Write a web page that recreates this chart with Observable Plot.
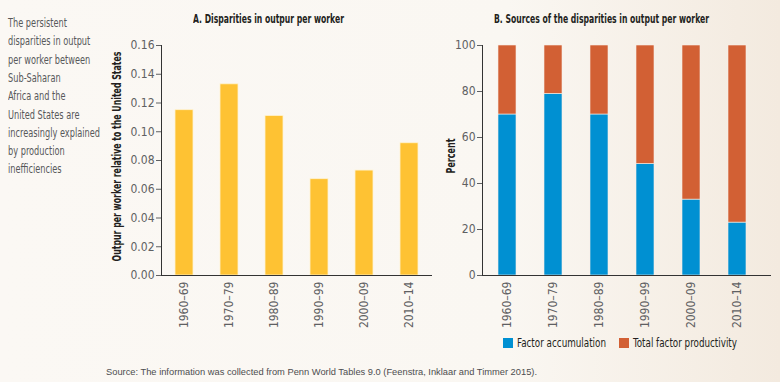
<!DOCTYPE html>
<html>
<head>
<meta charset="utf-8">
<script src="https://cdn.jsdelivr.net/npm/d3@7"></script>
<script src="https://cdn.jsdelivr.net/npm/@observablehq/plot@0.6"></script>
<style>
  html, body { margin: 0; padding: 0; }
  body { width: 780px; height: 382px; overflow: hidden; }
  #wrap {
    position: relative; width: 780px; height: 382px;
    background: linear-gradient(to right, #fbf8f4 0%, #faf7f2 65%, #f3eadf 100%);
    font-family: 'Liberation Sans Narrow', 'DejaVu Sans Condensed', 'Arial Narrow', sans-serif;
    overflow: hidden;
  }
  .abs { position: absolute; white-space: nowrap; transform-origin: 0 50%; }
  .noteline { position: absolute; left: 8px; font-size: 11.5px; color: #58595b; white-space: nowrap; transform-origin: 0 50%; line-height: 14px; }
  .title { top: 12px; font-size: 12.5px; font-weight: bold; color: #231f20; line-height: 14px; }
  .legtext { font-size: 12.5px; color: #231f20; line-height: 14px; top: 336px; }
  .sw { position: absolute; width: 10px; height: 10px; top: 338px; }
  #source { left: 106px; top: 367px; font-family: 'Liberation Sans', Arial, sans-serif; font-size: 8.8px; color: #4d4d4f; line-height: 11px; }
  .plot { position: absolute; top: 0; }
</style>
</head>
<body>
<div id="wrap">
  <div id="plotA" class="plot" style="left:100px"></div>
  <div id="plotB" class="plot" style="left:420px"></div>
</div>
<script>
// ---- Data ----
const periods = ["1960–69", "1970–79", "1980–89", "1990–99", "2000–09", "2010–14"];
const outputPerWorker = [0.115, 0.133, 0.111, 0.067, 0.073, 0.092];
const factorAccumulation = [70, 79, 70, 48.5, 33, 23];
const totalFactorProductivity = [30, 21, 30, 51.5, 67, 77];
const seriesNames = ["Factor accumulation", "Total factor productivity"];
const seriesColors = ["#0090d2", "#d26034"];
const yTicksA = [0, 0.02, 0.04, 0.06, 0.08, 0.10, 0.12, 0.14, 0.16];
const yTicksB = [0, 20, 40, 60, 80, 100];
const titleA = "A. Disparities in outpur per worker";
const titleB = "B. Sources of the disparities in output per worker";
const yLabelA = "Outpur per worker relative to the United States";
const yLabelB = "Percent";
const noteLines = ["The persistent", "disparities in output", "per worker between", "Sub-Saharan", "Africa and the", "United States are", "increasingly explained", "by production", "inefficiencies"];
const sourceText = "Source: The information was collected from Penn World Tables 9.0 (Feenstra, Inklaar and Timmer 2015).";

// ---- Tables ----
const tableA = periods.map((p, i) => ({period: p, value: outputPerWorker[i]}));
const tableB = [];
periods.forEach((p, i) => {
  tableB.push({period: p, source: seriesNames[0], value: factorAccumulation[i]});
  tableB.push({period: p, source: seriesNames[1], value: totalFactorProductivity[i]});
});

const FONT = "'Liberation Sans Narrow', 'DejaVu Sans Condensed', 'Arial Narrow', sans-serif";
const baseStyle = {background: "transparent", fontFamily: FONT, fontSize: "12px", color: "#5f6062", overflow: "visible"};

// ---- Panel A ----
const plotA = Plot.plot({
  width: 340, height: 330,
  marginLeft: 61, marginRight: 8, marginTop: 45, marginBottom: 55,
  style: baseStyle,
  x: {type: "band", domain: periods, paddingInner: 0.6, paddingOuter: 0.31},
  y: {domain: [0, 0.16]},
  marks: [
    Plot.barY(tableA, {x: "period", y: "value", fill: "#fec233", stroke: "#fff3d0", strokeWidth: 0.8}),
    Plot.axisY({ticks: yTicksA, tickFormat: d3.format(".2f"), tickSize: 5, tickPadding: 2, label: null}),
    Plot.axisX({tickRotate: -90, tickSize: 0, tickPadding: 6, label: null}),
    Plot.ruleY([0], {stroke: "#333"}),
    Plot.frame({anchor: "left", stroke: "#333"}),
    Plot.text([yLabelA], {text: d => d, frameAnchor: "left", textAnchor: "middle", rotate: -90, dx: -45, dy: -4, fontWeight: "bold", fill: "#231f20", fontSize: 12.5})
  ]
});
document.getElementById("plotA").appendChild(plotA);

// ---- Panel B ----
const plotB = Plot.plot({
  width: 360, height: 330,
  marginLeft: 62, marginRight: 9, marginTop: 45, marginBottom: 55,
  style: baseStyle,
  x: {type: "band", domain: periods, paddingInner: 0.6, paddingOuter: 0.4, align: 0.4},
  y: {domain: [0, 100]},
  color: {domain: seriesNames, range: seriesColors},
  marks: [
    Plot.barY(tableB, {x: "period", y: "value", fill: "source", stroke: "#f7efe6", strokeWidth: 0.6}),
    Plot.axisY({ticks: yTicksB, tickSize: 5, tickPadding: 2, label: null}),
    Plot.axisX({tickRotate: -90, tickSize: 0, tickPadding: 6, label: null}),
    Plot.ruleY([0], {stroke: "#333"}),
    Plot.frame({anchor: "left", stroke: "#333"}),
    Plot.text([yLabelB], {text: d => d, frameAnchor: "left", textAnchor: "middle", rotate: -90, dx: -31.5, dy: -4.5, fontWeight: "bold", fill: "#231f20", fontSize: 12.5})
  ]
});
document.getElementById("plotB").appendChild(plotB);

// ---- squeeze the rotated SVG labels to the reference lengths (scale about their centre) ----
const wrap = document.getElementById("wrap");
function fitSvgText(svg, content, len) {
  svg.querySelectorAll("text").forEach(t => {
    if (t.textContent === content) {
      t.setAttribute("text-anchor", "middle");
      const w = t.getComputedTextLength();
      const tr = t.getAttribute("transform") || "";
      t.setAttribute("transform", `${tr} scale(${len / w},1)`);
    }
  });
}
fitSvgText(plotA, yLabelA, 210);
fitSvgText(plotB, yLabelB, 35);

// ---- HTML text helpers ----
function addText(txt, cls, left, top, extraStyle) {
  const d = document.createElement("div");
  d.className = cls;
  d.textContent = txt;
  d.style.left = left + "px";
  if (top != null) d.style.top = top + "px";
  if (extraStyle) Object.assign(d.style, extraStyle);
  wrap.appendChild(d);
  return d;
}
function fit(el, target) {
  const w = el.getBoundingClientRect().width;
  el.style.transform = `scaleX(${target / w})`;
}

// titles (centered at 268 and 601, widths 151 and 215)
const tA = addText(titleA, "abs title", 268 - 151 / 2);
fit(tA, 151);
const tB = addText(titleB, "abs title", 601 - 215 / 2);
fit(tB, 215);

// note
const noteEls = noteLines.map((l, i) => addText(l, "noteline", 8, 16 + i * 18.3));
const longest = noteEls[6].getBoundingClientRect().width;
const f = 92 / longest;
noteEls.forEach(e => e.style.transform = `scaleX(${f})`);

// legend
const swLeft = [503, 619], txLeft = [517, 633], txW = [89, 104];
seriesNames.forEach((n, i) => {
  const s = document.createElement("div");
  s.className = "sw";
  s.style.left = swLeft[i] + "px";
  s.style.background = seriesColors[i];
  wrap.appendChild(s);
  const t = addText(n, "abs legtext", txLeft[i]);
  fit(t, txW[i]);
});

// source
const src = addText(sourceText, "abs", 106);
src.id = "source";
fit(src, 431);
</script>
</body>
</html>
